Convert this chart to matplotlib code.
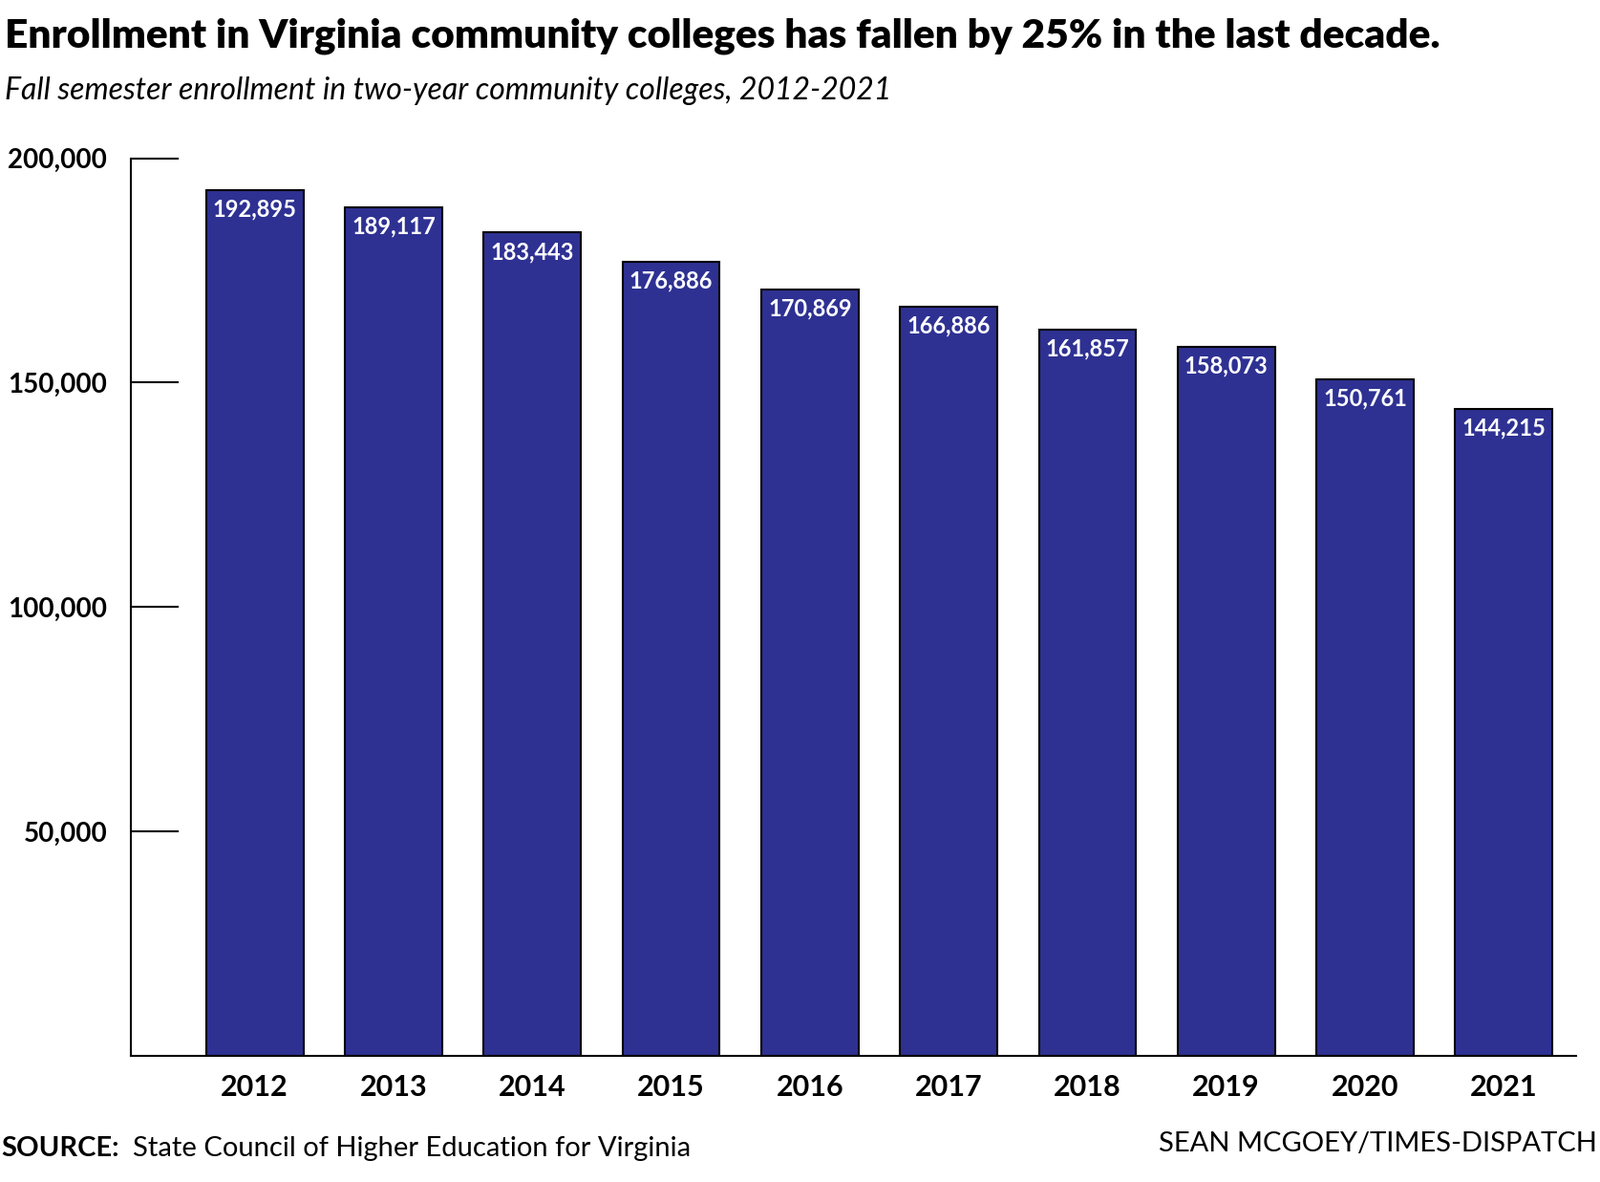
import matplotlib
matplotlib.use("Agg")
import matplotlib.pyplot as plt

years = ["2012","2013","2014","2015","2016","2017","2018","2019","2020","2021"]
enrollment = [192895,189117,183443,176886,170869,166886,161857,158073,150761,144215]
yticks = [50000,100000,150000,200000]
ytick_labels = ["50,000","100,000","150,000","200,000"]

plt.rcParams["font.family"] = "Lato"
fig = plt.figure(figsize=(16.75,12.37), dpi=100)
ax = fig.add_axes([0.082,0.107,0.903,0.759])
x = list(range(len(years)))
ax.bar(x, enrollment, width=0.7, color="#2E3192", edgecolor="black", linewidth=1.5)
for xi, v in zip(x, enrollment):
    ax.text(xi, v-1800, f"{v:,}", ha="center", va="top", color="white", fontsize=17, fontweight="bold")
ax.set_xlim(-0.89, 9.52)
ax.set_ylim(0, 200000)
ax.set_xticks(x)
ax.set_xticklabels(years, fontsize=22, fontweight="bold")
ax.set_yticks(yticks)
ax.set_yticklabels(ytick_labels, fontsize=20, fontweight="bold")
ax.tick_params(axis="y", direction="in", length=36, width=1.5, pad=18)
ax.tick_params(axis="x", length=0, pad=14)
for s in ["top","right"]:
    ax.spines[s].set_visible(False)
for s in ["left","bottom"]:
    ax.spines[s].set_linewidth(1.5)

fig.text(0.003,0.985,"Enrollment in Virginia community colleges has fallen by 25% in the last decade.",
         fontsize=30.5, fontweight="black", va="top", ha="left")
fig.text(0.003,0.935,"Fall semester enrollment in two-year community colleges, 2012-2021",
         fontsize=23, style="italic", va="top", ha="left")
fig.text(0.001,0.018,"SOURCE:", fontsize=21, fontweight="bold", va="bottom", ha="left")
fig.text(0.083,0.018,"State Council of Higher Education for Virginia", fontsize=21, va="bottom", ha="left")
fig.text(0.998,0.022,"SEAN MCGOEY/TIMES-DISPATCH", fontsize=21, va="bottom", ha="right")
fig.savefig("out.png", dpi=100)
